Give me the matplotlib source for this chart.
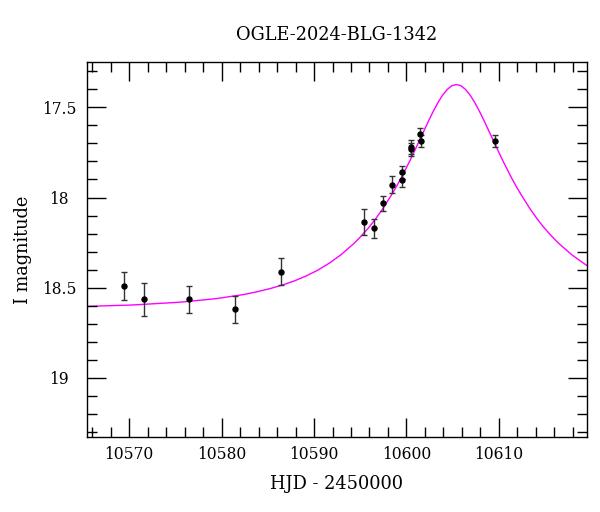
import matplotlib
matplotlib.use('Agg')
import matplotlib.pyplot as plt
from matplotlib.ticker import MultipleLocator

# OGLE photometry (HJD - 2450000, I mag, error)
hjd = [10569.43, 10571.59, 10576.52, 10581.50, 10586.47,
       10595.44, 10596.49, 10597.50, 10598.47, 10599.51, 10599.55,
       10600.45, 10600.50, 10601.50, 10601.53, 10609.57]
mag = [18.491, 18.565, 18.565, 18.621, 18.411,
       18.137, 18.171, 18.033, 17.928, 17.861, 17.904,
       17.719, 17.733, 17.647, 17.687, 17.686]
err = [0.080, 0.090, 0.077, 0.074, 0.073,
       0.071, 0.052, 0.043, 0.046, 0.036, 0.039,
       0.037, 0.037, 0.035, 0.034, 0.034]

# model curve
model_t = [10565.4, 10570.4, 10575.4, 10579.4, 10582.4, 10583.9, 10585.4,
           10586.65, 10587.9, 10589.15, 10590.4, 10591.65, 10592.9, 10594.4,
           10595.15, 10595.9, 10596.65, 10597.4, 10598.4, 10598.9, 10599.4,
           10599.9, 10600.4, 10600.9, 10601.4, 10601.9, 10602.4, 10602.9,
           10603.4, 10603.9, 10604.4, 10604.9, 10605.4, 10605.9, 10606.4,
           10606.9, 10607.4, 10607.9, 10608.4, 10608.9, 10609.4, 10609.9,
           10610.4, 10610.9, 10611.4, 10611.9, 10612.4, 10613.4, 10614.15,
           10614.9, 10615.65, 10616.4, 10617.9, 10619.15, 10619.5]
model_mag = [18.604, 18.596, 18.581, 18.561, 18.538, 18.522, 18.503,
             18.484, 18.462, 18.435, 18.403, 18.364, 18.318, 18.251,
             18.211, 18.168, 18.119, 18.065, 17.984, 17.940, 17.894,
             17.844, 17.793, 17.739, 17.684, 17.629, 17.574, 17.522,
             17.474, 17.433, 17.401, 17.380, 17.373, 17.380, 17.401,
             17.433, 17.474, 17.522, 17.574, 17.629, 17.684, 17.739,
             17.793, 17.844, 17.894, 17.940, 17.984, 18.065, 18.119,
             18.168, 18.211, 18.251, 18.318, 18.364, 18.376]

plt.rcParams['font.family'] = ['DejaVu Serif']

fig = plt.figure(figsize=(6, 5.12), dpi=100)
ax = fig.add_axes([0.1445, 0.1459, 0.8333, 0.7324])

ax.plot(model_t, model_mag, color='#ff00ff', lw=1.0, zorder=1)
ax.errorbar(hjd, mag, yerr=err, fmt='o', color='black', ms=3.6,
            ecolor='#333333', elinewidth=1.0, capsize=2.4, capthick=1.0, zorder=2)

ax.set_xlim(10565.4, 10619.5)
ax.set_ylim(19.33, 17.25)

ax.xaxis.set_major_locator(MultipleLocator(10))
ax.xaxis.set_minor_locator(MultipleLocator(2))
ax.yaxis.set_major_locator(MultipleLocator(0.5))
ax.yaxis.set_minor_locator(MultipleLocator(0.1))
ax.yaxis.set_major_formatter(plt.FuncFormatter(lambda v, p: f'{v:g}'))

ax.tick_params(which='both', direction='in', top=True, right=True, width=1.0,
               labelsize=11.2)
ax.tick_params(which='major', length=14)
ax.tick_params(which='minor', length=7)
ax.tick_params(axis='x', which='major', pad=6)
ax.tick_params(axis='y', which='major', pad=20)
for lab in ax.get_yticklabels():
    lab.set_horizontalalignment('center')

for s in ax.spines.values():
    s.set_linewidth(1.0)

ax.set_xlabel('HJD - 2450000', fontsize=12.8, labelpad=9)
ax.set_ylabel('I magnitude', fontsize=12.8, labelpad=7)
ax.set_title('OGLE-2024-BLG-1342', fontsize=12.8, pad=16)

fig.savefig('out.png', dpi=100)
